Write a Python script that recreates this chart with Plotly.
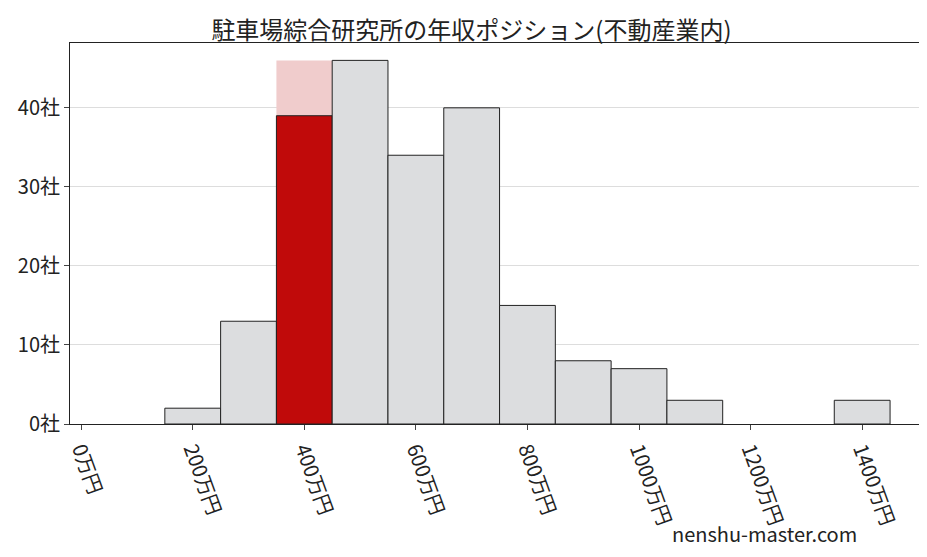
import plotly.graph_objects as go

centers = [200, 300, 400, 500, 600, 700, 800, 900, 1000, 1100, 1200, 1300, 1400]
counts = [2, 13, 39, 46, 34, 40, 15, 8, 7, 3, 0, 0, 3]
highlight_center = 400
highlight_total = 46
x_ticks = [0, 200, 400, 600, 800, 1000, 1200, 1400]
x_labels = [f"{v}万円" for v in x_ticks]
y_ticks = [0, 10, 20, 30, 40]
y_labels = [f"{v}社" for v in y_ticks]

font = "Noto Sans CJK JP"
colors = ["#c00a0a" if c == highlight_center else "#dcdddf" for c in centers]
line_w = [0 if v == 0 else 1 for v in counts]

fig = go.Figure()
fig.add_bar(x=[highlight_center], y=[highlight_total], width=100,
            marker=dict(color="#f0cccc", line=dict(width=0)), hoverinfo="skip")
fig.add_bar(x=centers, y=counts, width=100,
            marker=dict(color=colors, line=dict(color="#222", width=line_w)))
fig.update_layout(
    width=927, height=557, barmode="overlay", showlegend=False,
    paper_bgcolor="white", plot_bgcolor="white",
    margin=dict(l=62, r=7, t=35, b=141, autoexpand=False),
    title=dict(text="駐車場綜合研究所の年収ポジション(不動産業内)", x=0.5, y=0.975,
               xanchor="center", font=dict(family=font, size=24, color="#222")),
    font=dict(family=font, color="#222"),
    xaxis=dict(range=[-20, 1518], tickvals=x_ticks, ticktext=x_labels, tickangle=70,
               tickfont=dict(size=20), showline=True, linecolor="#222", mirror=True,
               ticks="outside", showgrid=False, automargin=False),
    yaxis=dict(range=[0, 48.2], tickvals=y_ticks, ticktext=y_labels,
               tickfont=dict(size=20), showline=True, linecolor="#222", mirror=True,
               ticks="outside", gridcolor="#dddddd", automargin=False),
)
fig.add_annotation(text="nenshu-master.com", xref="paper", yref="paper",
                   x=0.92, y=-0.33, showarrow=False, xanchor="right",
                   font=dict(family=font, size=20, color="#222"))
fig.write_html("out.html")
